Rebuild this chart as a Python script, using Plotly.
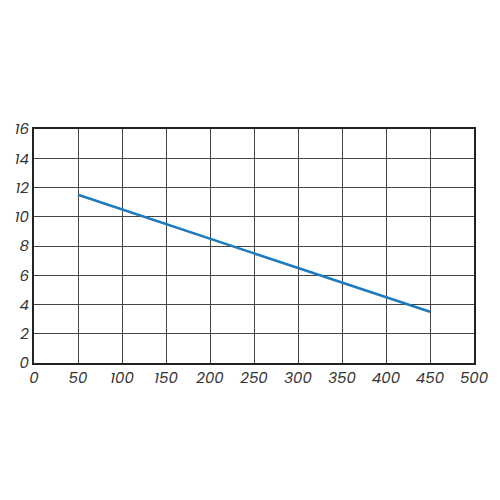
import plotly.graph_objects as go

flow = [50, 450]
head = [11.5, 3.5]

fig = go.Figure()
fig.add_trace(go.Scatter(x=flow, y=head, mode='lines',
                         line=dict(color='#1b7bbd', width=2.5), showlegend=False))

axis_font = dict(family='Poppins, Lato, sans-serif', size=15, color='#333333', style='italic')
fig.update_xaxes(range=[0, 500], dtick=50, showgrid=True, gridcolor='#444444', gridwidth=1,
                 showline=True, linecolor='#222222', linewidth=2, mirror=True,
                 zeroline=False, ticks='', tickfont=axis_font, automargin=False)
fig.update_yaxes(range=[0, 16], dtick=2, showgrid=True, gridcolor='#444444', gridwidth=1,
                 showline=True, linecolor='#222222', linewidth=2, mirror=True,
                 zeroline=False, ticks='', tickfont=axis_font, automargin=False)
# page body adds an 8px offset, so margins are shifted accordingly
fig.update_layout(width=500, height=500, plot_bgcolor='white', paper_bgcolor='white',
                  margin=dict(l=26, r=34, t=121, b=145))
fig.write_html("out.html")
